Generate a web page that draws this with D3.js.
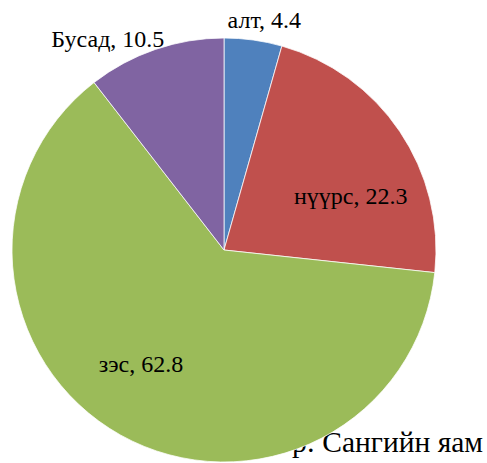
<!DOCTYPE html>
<html>
<head>
<meta charset="utf-8">
<script src="https://cdn.jsdelivr.net/npm/d3@7"></script>
<style>
  html, body { margin: 0; padding: 0; background: #fff; }
  svg { display: block; }
</style>
</head>
<body>
<svg id="chart" width="487" height="463"></svg>
<script>
// chart data
const categories = ["алт", "нүүрс", "зэс", "Бусад"];
const shares = [4.4, 22.3, 62.8, 10.5];
const sliceColors = ["#4F81BD", "#C0504D", "#9BBB59", "#8064A2"];
const sourceNote = "Эх үүсвэр: Сангийн яам";

const serif = "Liberation Serif";
const cx = 224, cy = 250, radius = 212;

const svg = d3.select("#chart");

// source note sits underneath the pie (pie overlaps its left part)
svg.append("text")
    .attr("x", 483).attr("y", 452)
    .attr("text-anchor", "end")
    .attr("font-family", serif)
    .attr("font-size", 29.5)
    .text(sourceNote);

const pie = d3.pie().sort(null).value(d => d);
const arcs = pie(shares);

const arc = d3.arc().innerRadius(0).outerRadius(radius);

const g = svg.append("g").attr("transform", `translate(${cx},${cy})`);

g.selectAll("path")
    .data(arcs)
    .join("path")
    .attr("d", arc)
    .attr("fill", (d, i) => sliceColors[i])
    .attr("stroke", "#fff")
    .attr("stroke-width", 0.75);

// label placement: radius along slice mid-angle, plus a nudge like Excel's best fit
const labelRadius = [234, 138, 141, 241];
const angleNudge = [0.035, 0.185, 0.12, -0.173];

g.selectAll("text.lbl")
    .data(arcs)
    .join("text")
    .attr("class", "lbl")
    .attr("text-anchor", "middle")
    .attr("dy", "0.35em")
    .attr("font-family", serif)
    .attr("font-size", 24)
    .attr("transform", (d, i) => {
        const a = (d.startAngle + d.endAngle) / 2 + angleNudge[i];
        const r = labelRadius[i];
        return `translate(${r * Math.sin(a)},${-r * Math.cos(a)})`;
    })
    .text((d, i) => `${categories[i]}, ${shares[i]}`);
</script>
</body>
</html>
